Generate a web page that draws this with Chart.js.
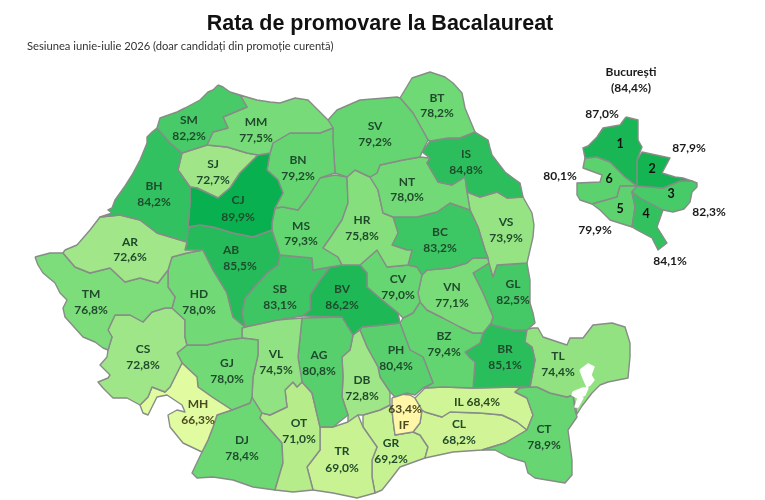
<!DOCTYPE html>
<html>
<head>
<meta charset="utf-8">
<title>Rata de promovare la Bacalaureat</title>
<style>
html, body { margin: 0; padding: 0; background: #fff; }
canvas { display: block; }
</style>
<script src="https://cdn.jsdelivr.net/npm/chart.js@4/dist/chart.umd.min.js"></script>
</head>
<body>
<canvas id="harta" width="765" height="500"></canvas>
<script>
var titleText = "Rata de promovare la Bacalaureat";
var subtitleText = "Sesiunea iunie-iulie 2026 (doar candidați din promoție curentă)";

// county codes and pass rates
var countyCodes = ["SM","MM","BH","CJ","SJ","BN","SV","BT","IS","NT","HR","MS","BC","VS","AR","AB","SB","BV","CV","VN","GL","TM","HD","CS","MH","GJ","VL","AG","OT","DJ","TR","DB","PH","BZ","BR","TL","CT","IL","IF","CL","GR"];
var countyRates = [82.2,77.5,84.2,89.9,72.7,79.2,79.2,78.2,84.8,78.0,75.8,79.3,83.2,73.9,72.6,85.5,83.1,86.2,79.0,77.1,82.5,76.8,78.0,72.8,66.3,78.0,74.5,80.8,71.0,78.4,69.0,72.8,80.4,79.4,85.1,74.4,78.9,68.4,63.4,68.2,69.2];

// Bucharest sectors
var sectorNames = ["1","2","3","4","5","6"];
var sectorRates = [87.0,87.9,82.3,84.1,79.9,80.1];
var bucharestName = "București";
var bucharestRate = 84.4;

// colour scale of the map
var rateStops = [63.4,66.3,68.3,71.0,72.7,74.4,77.5,79.2,80.8,82.3,84.2,86.2,89.9];
var colourStops = [[255,246,168],[224,251,160],[208,245,150],[182,236,138],[160,230,136],[146,226,130],[118,219,120],[100,213,113],[86,207,108],[71,202,104],[50,193,96],[30,184,87],[9,176,79]];

// outlines in map units
var countyOutlines = {
  SM: [218,85,213,90,208,92,200,100,185,108,177,112,160,118,157,128,170,143,182,153,207,145,213,132,228,128,223,117,247,107,240,95,230,92,223,87],
  MM: [240,95,247,107,223,117,228,128,213,132,207,145,227,147,247,153,258,155,270,153,273,143,290,133,320,133,333,128,328,120,318,110,308,100,295,98,280,103,270,102,257,100,250,98],
  BH: [157,128,152,132,147,137,147,143,140,160,132,175,125,186,115,200,112,208,108,210,112,213,100,217,120,215,140,220,157,233,187,242,188,227,190,203,190,187,178,170,182,153,170,143],
  CJ: [190,187,197,188,218,198,230,188,240,173,258,155,270,153,267,170,278,180,283,193,275,208,272,223,272,230,253,237,233,233,213,227,200,225,188,227,190,203],
  SJ: [182,153,207,145,227,147,247,153,258,155,240,173,230,188,218,198,197,188,190,187,178,170],
  BN: [270,153,273,143,290,133,320,133,333,128,333,140,335,173,320,178,308,197,298,210,283,207,275,208,283,193,278,180,267,170],
  SV: [333,128,328,120,337,110,360,100,397,97,400,98,413,113,428,140,422,152,420,157,403,160,380,165,377,173,370,177,355,170,347,177,335,173,333,140],
  BT: [400,98,412,78,430,72,445,77,453,83,462,93,465,108,470,120,475,132,460,138,448,138,430,141,428,140,413,113],
  IS: [430,141,422,152,430,158,427,163,438,182,452,185,465,177,467,192,480,197,497,192,507,198,523,197,520,183,513,178,505,172,492,155,490,148,488,140,475,132,460,138,448,138],
  NT: [377,173,380,165,403,160,420,157,430,158,427,163,438,182,452,185,465,177,467,192,470,210,450,203,437,212,417,217,393,217,383,213,378,190,370,177],
  HR: [347,177,355,170,370,177,378,190,383,213,393,217,398,233,392,245,407,250,412,250,408,265,387,267,377,250,360,265,342,265,338,257,323,248,330,238,342,220,348,203],
  MS: [275,208,283,207,298,210,308,197,320,178,335,175,347,177,348,203,342,220,330,238,323,248,338,257,342,265,330,267,313,270,312,258,280,255,278,248,272,230,272,223],
  BC: [393,217,417,217,437,212,450,203,470,210,478,227,485,250,488,258,473,258,467,263,450,268,427,270,422,275,417,267,408,265,412,250,407,250,392,245,398,233],
  VS: [467,192,480,197,497,192,507,198,523,197,532,213,534,225,533,237,530,250,527,263,497,265,493,277,489,263,488,258,485,250,478,227,470,210],
  AR: [65,250,77,245,90,230,100,217,120,215,140,220,157,233,187,242,185,250,203,250,187,253,172,257,168,270,158,283,140,278,125,282,110,268,90,273,75,267,63,253],
  AB: [188,227,200,225,213,227,233,233,253,237,272,230,278,248,280,255,278,265,267,273,258,283,245,298,242,313,245,327,233,317,227,293,213,270,203,250,185,250,187,242],
  SB: [280,255,312,258,313,270,330,267,320,280,310,295,310,310,302,316,277,320,245,327,242,313,245,298,258,283,267,273,278,265],
  BV: [330,267,342,265,360,265,367,273,367,287,382,300,398,313,400,323,383,325,362,327,353,335,342,317,302,316,310,310,310,295,320,280],
  CV: [360,265,377,250,387,267,408,265,417,267,422,275,418,293,420,302,413,313,403,318,398,313,382,300,367,287,367,273],
  VN: [422,275,427,270,450,268,467,263,473,258,488,258,489,263,473,273,483,293,493,317,491,323,483,333,473,333,460,327,443,318,427,310,420,302,418,293],
  GL: [473,273,489,263,493,277,497,265,527,263,530,280,530,303,533,313,535,323,527,330,513,330,493,325,491,323,493,317,483,293],
  TM: [35,257,50,253,63,253,75,267,90,273,110,268,125,282,140,278,158,283,168,270,168,287,175,297,172,308,165,308,152,312,143,322,130,315,115,315,108,330,112,337,108,350,103,348,95,342,83,337,65,317,63,308,67,300,60,293,55,283,43,273,38,265],
  HD: [172,257,187,253,203,250,213,270,227,293,233,317,245,327,242,328,242,338,227,340,207,345,187,345,185,337,185,320,172,308,175,297,168,287,168,270],
  CS: [108,330,115,315,130,315,143,322,152,312,165,308,172,308,185,320,185,337,187,345,177,353,182,363,170,387,165,392,152,387,148,397,140,405,127,398,113,398,103,388,98,382,108,378,110,375,100,365,107,357,108,350,112,337],
  MH: [182,363,197,377,198,387,212,397,232,410,217,415,213,427,208,440,202,452,183,443,170,427,168,415,177,410,185,412,182,405,167,395,157,397,148,415,143,413,140,405,148,397,152,387,165,392,170,387],
  GJ: [187,345,207,345,227,340,242,338,258,340,258,355,253,377,252,397,250,403,232,410,212,397,198,387,197,377,182,363,177,353],
  VL: [245,327,277,320,302,318,298,357,302,382,297,387,293,382,285,390,287,407,270,415,262,413,252,397,253,377,258,355,258,340,242,338,242,328],
  AG: [302,318,342,317,353,335,350,350,342,357,343,377,342,397,348,415,333,427,320,427,312,393,302,382,298,357],
  OT: [297,387,302,382,312,393,320,427,320,450,307,467,313,490,293,492,275,490,280,473,283,463,282,443,260,418,262,413,270,415,287,407,285,390,293,382],
  DJ: [232,410,250,403,252,397,262,413,260,418,282,443,283,463,280,473,275,490,253,487,233,480,213,477,197,478,192,473,202,452,208,440,213,427,217,415],
  TR: [320,427,333,427,348,422,358,415,363,427,377,447,372,460,372,477,375,493,357,498,333,493,313,490,307,467,320,450],
  DB: [353,335,360,330,367,347,378,367,380,377,390,392,390,405,380,410,363,415,358,415,348,422,348,415,342,397,343,377,342,357,350,350],
  PH: [360,330,362,327,383,325,400,323,410,350,423,357,433,383,423,388,415,395,407,393,395,397,390,392,380,377,378,367,367,347],
  BZ: [400,323,403,318,413,313,420,302,427,310,443,318,460,327,473,333,483,333,480,343,465,352,470,358,475,362,473,388,443,387,425,388,433,383,423,357,410,350],
  BR: [483,333,491,323,493,325,513,330,527,330,525,342,532,347,535,360,530,387,515,387,473,388,475,362,470,358,465,352,480,343],
  TL: [525,342,523,330,533,328,538,328,543,337,567,345,570,338,583,338,593,325,612,323,625,327,630,343,630,357,628,378,608,382,600,385,592,393,582,406,577,414,573,395,567,397,550,393,537,387,530,387,535,360,532,347],
  CT: [515,392,520,388,530,387,537,387,550,393,567,397,573,395,575,410,577,417,568,430,572,460,572,475,565,483,547,480,535,478,528,473,525,462,508,457,495,450,482,450,505,443,527,430,533,415,527,398],
  IL: [415,398,425,388,443,387,473,388,515,387,520,388,515,392,527,398,533,415,527,430,517,422,502,415,480,413,450,412,442,417,425,412,422,410],
  IF: [392,398,400,394,410,395,415,398,422,410,420,423,413,432,395,435,393,420,392,410],
  CL: [422,410,425,412,442,417,450,412,480,413,502,415,517,422,527,430,505,443,482,450,453,452,425,458,428,447,420,435,413,432,420,423],
  GR: [363,415,380,410,390,405,392,410,393,420,395,435,413,432,420,435,428,447,425,458,400,467,390,480,382,490,375,493,372,477,372,460,377,447,363,427]
};
var sectorOutlines = {
  "1": [626,117,638,120,638,140,642,147,637,160,637,186,625,177,610,162,597,157,585,158,583,148,588,146,597,137,603,128,620,125],
  "2": [637,160,642,152,670,158,662,173,675,177,683,178,692,181,680,181,663,188,637,186],
  "3": [637,186,663,188,680,181,692,181,697,183,697,187,692,192,690,202,684,209,673,212,663,210,640,198,632,192],
  "4": [632,192,640,198,663,210,657,227,667,243,658,250,652,238,637,230,632,227,635,207],
  "5": [620,186,637,186,632,192,635,207,632,227,610,220,600,210,592,204,617,197],
  "6": [585,158,597,157,610,162,625,177,637,186,620,186,617,197,592,204,580,200,577,195,577,183,600,182,602,175,583,168]
};
var waterOutlines = [
  [580,370,588,364,594,367,591,375,594,380,590,385,587,387,583,378],
  [573,392,583,388,588,388,585,395,580,397,583,398,578,407,575,407,578,398,572,395]
];

// label anchors in map units: code x, code y, value x, value y
var countyLabelAnchors = {
  SM:[189,120,189,136], MM:[256,122,256,138], BH:[154,186,154,202], CJ:[238,200,238,217], SJ:[213,164,213,180],
  BN:[298,160,298,176], SV:[375,126,375,142], BT:[437,98,437,113], IS:[466,154,466,170], NT:[407,182,407,197],
  HR:[362,220,362,236], MS:[301,226,301,241], BC:[440,232,440,248], VS:[506,222,506,238], AR:[130,242,130,257],
  AB:[231,250,240,266], SB:[280,289,280,305], BV:[342,289,342,305], CV:[398,279,398,295], VN:[452,287,452,303],
  GL:[513,284,513,300], TM:[91,294,91,310], HD:[199,294,199,310], CS:[143,349,143,365], MH:[198,404,198,420],
  GJ:[227,363,227,379], VL:[276,354,276,370], AG:[319,355,319,371], OT:[299,423,299,439], DJ:[242,440,242,456],
  TR:[342,451,342,468], DB:[362,380,362,396], PH:[396,350,396,366], BZ:[444,336,444,352], BR:[505,349,505,365],
  TL:[558,356,558,372], CT:[544,429,544,445], IF:[404,425,405,409], CL:[459,424,459,440], GR:[391,443,391,459]
};
var ilLabelAnchor = [477,402];
var sectorNameAnchors = [[620,144],[652,169],[671,194],[646,214],[620,209],[609,179]];
var sectorValueAnchors = [[602,114],[689,148],[709,212],[670,261],[595,230],[560,176]];

function rateColour(rate) {
    var i = 0;
    while (i < rateStops.length - 2 && rate > rateStops[i + 1]) i++;
    var t = (rate - rateStops[i]) / (rateStops[i + 1] - rateStops[i]);
    var a = colourStops[i], b = colourStops[i + 1];
    return "rgb(" + Math.round(a[0] + (b[0] - a[0]) * t) + "," + Math.round(a[1] + (b[1] - a[1]) * t) + "," + Math.round(a[2] + (b[2] - a[2]) * t) + ")";
}

function formatRate(rate) {
    return rate.toFixed(1).replace(".", ",") + "%";
}

function outlineDataset(label, flat, fillColour, lineColour) {
    var pts = [];
    for (var i = 0; i < flat.length; i += 2) pts.push({ x: flat[i], y: flat[i + 1] });
    pts.push({ x: flat[0], y: flat[1] });
    return {
        label: label,
        data: pts,
        showLine: true,
        fill: "shape",
        backgroundColor: fillColour,
        borderColor: lineColour,
        borderWidth: 1.4,
        borderJoinStyle: "round",
        pointRadius: 0,
        tension: 0
    };
}

var datasets = [];
// first dataset ends up on top, water goes over the coast
waterOutlines.forEach(function(w, i) {
    datasets.push(outlineDataset("apa" + i, w, "#ffffff", "#ffffff"));
});
countyCodes.forEach(function(code, i) {
    datasets.push(outlineDataset(code, countyOutlines[code], rateColour(countyRates[i]), "#878c87"));
});
sectorNames.forEach(function(name, i) {
    datasets.push(outlineDataset("Sector " + name, sectorOutlines[name], rateColour(sectorRates[i]), "#878c87"));
});

var textPlugin = {
    id: "mapText",
    afterDatasetsDraw: function(chart) {
        var ctx = chart.ctx;
        var sx = chart.scales.x, sy = chart.scales.y;
        function put(text, x, y, font, colour, align) {
            ctx.font = font;
            ctx.fillStyle = colour;
            ctx.textAlign = align || "center";
            ctx.textBaseline = "middle";
            ctx.fillText(text, sx.getPixelForValue(x), sy.getPixelForValue(y));
        }
        ctx.save();
        put(titleText, 380, 24, "bold 21.5px 'Liberation Sans'", "#111111");
        put(subtitleText, 27, 46, "11.2px Lato", "#333333", "left");

        var countyFont = "bold 12px Lato", countyInk = "#1f4a2c";
        countyCodes.forEach(function(code, i) {
            var a = countyLabelAnchors[code];
            if (!a) return;
            var ink = countyRates[i] < 67 ? "#4a4a20" : countyInk;
            put(code, a[0], a[1], countyFont, ink);
            put(formatRate(countyRates[i]), a[2], a[3], countyFont, ink);
        });
        put("IL " + formatRate(countyRates[countyCodes.indexOf("IL")]), ilLabelAnchor[0], ilLabelAnchor[1], countyFont, "#2c4a1f");

        put(bucharestName, 631, 72, "bold 12px Lato", "#1a1a1a");
        put("(" + formatRate(bucharestRate) + ")", 631, 88, "bold 12px Lato", "#1a1a1a");
        sectorNames.forEach(function(name, i) {
            put(name, sectorNameAnchors[i][0], sectorNameAnchors[i][1], "bold 12.5px Lato", "#111111");
            put(formatRate(sectorRates[i]), sectorValueAnchors[i][0], sectorValueAnchors[i][1], "bold 12px Lato", "#1a1a1a");
        });
        ctx.restore();
    }
};

new Chart(document.getElementById("harta").getContext("2d"), {
    type: "scatter",
    data: { datasets: datasets },
    options: {
        responsive: false,
        animation: false,
        layout: { padding: 0 },
        scales: {
            x: { type: "linear", min: 0, max: 765, display: false },
            y: { type: "linear", min: 0, max: 500, reverse: true, display: false }
        },
        plugins: {
            legend: { display: false },
            tooltip: { enabled: false }
        }
    },
    plugins: [textPlugin]
});
</script>
</body>
</html>
